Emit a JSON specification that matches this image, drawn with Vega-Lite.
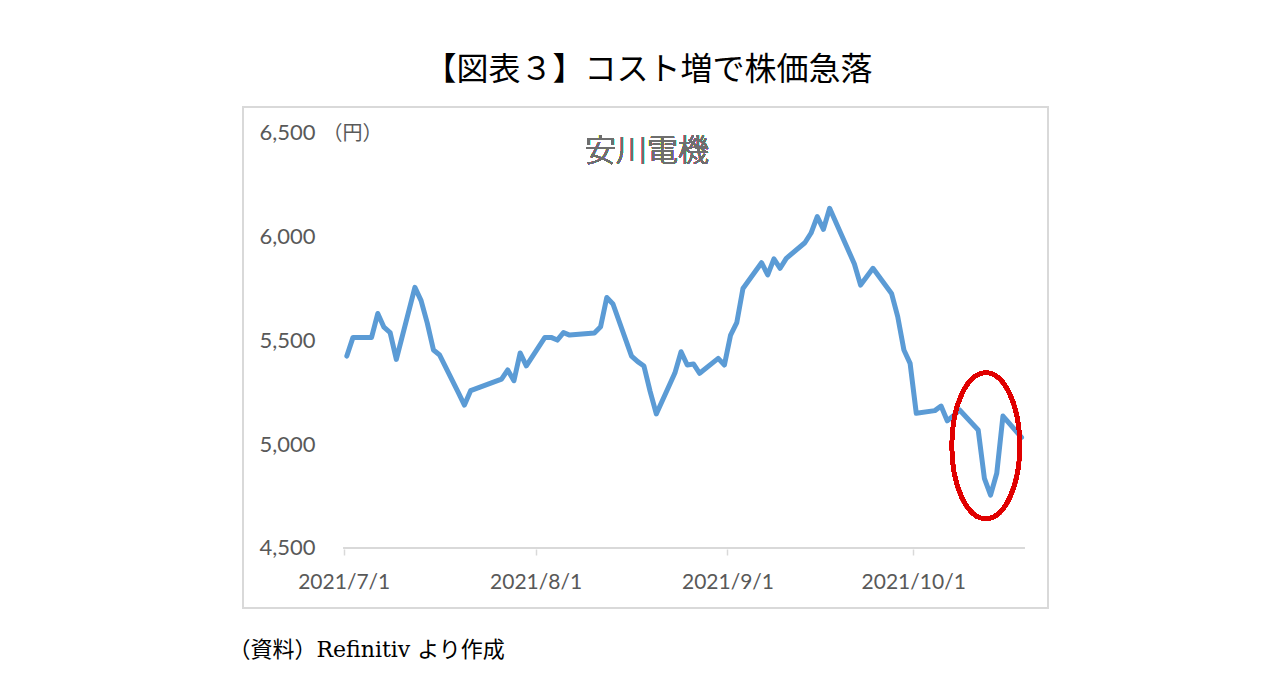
{
  "$schema": "https://vega.github.io/schema/vega-lite/v6.json",
  "width": 805,
  "height": 501,
  "autosize": {"type": "none"},
  "padding": {"left": 243, "top": 107, "right": 228, "bottom": 88},
  "background": "#ffffff",
  "title": {
    "text": "【図表３】コスト増で株価急落",
    "font": "Noto Sans CJK JP",
    "fontSize": 32,
    "fontWeight": "normal",
    "color": "#000000",
    "anchor": "middle",
    "dx": 3,
    "offset": 20
  },
  "config": {
    "view": {"stroke": "#d9d9d9", "strokeWidth": 2}
  },
  "data": {
    "values": [
      {"date": "2021-07-01", "price": 5425},
      {"date": "2021-07-02", "price": 5515},
      {"date": "2021-07-05", "price": 5515},
      {"date": "2021-07-06", "price": 5630},
      {"date": "2021-07-07", "price": 5564},
      {"date": "2021-07-08", "price": 5538},
      {"date": "2021-07-09", "price": 5409},
      {"date": "2021-07-12", "price": 5756},
      {"date": "2021-07-13", "price": 5692},
      {"date": "2021-07-14", "price": 5584},
      {"date": "2021-07-15", "price": 5454},
      {"date": "2021-07-16", "price": 5430},
      {"date": "2021-07-19", "price": 5250},
      {"date": "2021-07-20", "price": 5189},
      {"date": "2021-07-21", "price": 5258},
      {"date": "2021-07-26", "price": 5314},
      {"date": "2021-07-27", "price": 5358},
      {"date": "2021-07-28", "price": 5306},
      {"date": "2021-07-29", "price": 5440},
      {"date": "2021-07-30", "price": 5378},
      {"date": "2021-08-02", "price": 5515},
      {"date": "2021-08-03", "price": 5515},
      {"date": "2021-08-04", "price": 5502},
      {"date": "2021-08-05", "price": 5538},
      {"date": "2021-08-06", "price": 5526},
      {"date": "2021-08-10", "price": 5536},
      {"date": "2021-08-11", "price": 5566},
      {"date": "2021-08-12", "price": 5707},
      {"date": "2021-08-13", "price": 5676},
      {"date": "2021-08-16", "price": 5425},
      {"date": "2021-08-17", "price": 5398},
      {"date": "2021-08-18", "price": 5377},
      {"date": "2021-08-19", "price": 5255},
      {"date": "2021-08-20", "price": 5146},
      {"date": "2021-08-23", "price": 5343},
      {"date": "2021-08-24", "price": 5446},
      {"date": "2021-08-25", "price": 5382},
      {"date": "2021-08-26", "price": 5387},
      {"date": "2021-08-27", "price": 5342},
      {"date": "2021-08-30", "price": 5414},
      {"date": "2021-08-31", "price": 5382},
      {"date": "2021-09-01", "price": 5526},
      {"date": "2021-09-02", "price": 5586},
      {"date": "2021-09-03", "price": 5751},
      {"date": "2021-09-06", "price": 5875},
      {"date": "2021-09-07", "price": 5816},
      {"date": "2021-09-08", "price": 5893},
      {"date": "2021-09-09", "price": 5848},
      {"date": "2021-09-10", "price": 5896},
      {"date": "2021-09-13", "price": 5971},
      {"date": "2021-09-14", "price": 6018},
      {"date": "2021-09-15", "price": 6097},
      {"date": "2021-09-16", "price": 6036},
      {"date": "2021-09-17", "price": 6137},
      {"date": "2021-09-21", "price": 5869},
      {"date": "2021-09-22", "price": 5767},
      {"date": "2021-09-24", "price": 5848},
      {"date": "2021-09-27", "price": 5727},
      {"date": "2021-09-28", "price": 5615},
      {"date": "2021-09-29", "price": 5454},
      {"date": "2021-09-30", "price": 5390},
      {"date": "2021-10-01", "price": 5149},
      {"date": "2021-10-04", "price": 5162},
      {"date": "2021-10-05", "price": 5184},
      {"date": "2021-10-06", "price": 5113},
      {"date": "2021-10-07", "price": 5138},
      {"date": "2021-10-08", "price": 5165},
      {"date": "2021-10-11", "price": 5069},
      {"date": "2021-10-12", "price": 4836},
      {"date": "2021-10-13", "price": 4755},
      {"date": "2021-10-14", "price": 4860},
      {"date": "2021-10-15", "price": 5136},
      {"date": "2021-10-18", "price": 5033}
    ]
  },
  "layer": [
    {
      "mark": {
        "type": "line",
        "color": "#5b9bd5",
        "strokeWidth": 5,
        "strokeJoin": "round",
        "strokeCap": "round"
      },
      "encoding": {
        "x": {
          "field": "date",
          "type": "temporal",
          "timeUnit": "utcyearmonthdate",
          "bandPosition": 0.5,
          "scale": {
            "type": "utc",
            "domain": [
              {"year": 2021, "month": 6, "date": 14, "hours": 17, "minutes": 30, "utc": true},
              {"year": 2021, "month": 10, "date": 22, "hours": 18, "minutes": 40, "utc": true}
            ]
          },
          "axis": {
            "values": [
              {"year": 2021, "month": 7, "date": 1, "utc": true},
              {"year": 2021, "month": 8, "date": 1, "utc": true},
              {"year": 2021, "month": 9, "date": 1, "utc": true},
              {"year": 2021, "month": 10, "date": 1, "utc": true}
            ],
            "format": "%Y/%-m/%-d",
            "offset": -59,
            "grid": false,
            "domain": false,
            "ticks": true,
            "tickSize": 6,
            "tickColor": "#d9d9d9",
            "tickWidth": 1.5,
            "labelFont": "Lato",
            "labelFontSize": 21,
            "labelColor": "#595959",
            "labelPadding": 16,
            "title": "（資料）Refinitiv より作成",
            "titleFont": "DejaVu Serif, Noto Sans CJK JP",
            "titleFontSize": 22,
            "titleFontWeight": "normal",
            "titleColor": "#000000",
            "titleAngle": 0,
            "titleAlign": "left",
            "titleBaseline": "middle",
            "titleX": -15,
            "titleY": 100
          }
        },
        "y": {
          "field": "price",
          "type": "quantitative",
          "scale": {"domain": [4210.8, 6625.3], "nice": false, "zero": false},
          "axis": {
            "values": [4500, 5000, 5500, 6000, 6500],
            "format": ",d",
            "offset": -80,
            "grid": false,
            "domain": false,
            "ticks": false,
            "tickSize": 0,
            "labelFont": "Lato",
            "labelFontSize": 22,
            "labelColor": "#595959",
            "labelPadding": 8,
            "title": "（円）",
            "titleFont": "Noto Sans CJK JP",
            "titleFontSize": 20,
            "titleFontWeight": "normal",
            "titleColor": "#595959",
            "titleAngle": 0,
            "titleAlign": "left",
            "titleBaseline": "middle",
            "titleX": -1,
            "titleY": 26
          }
        }
      }
    },
    {
      "mark": {"type": "rule", "color": "#d9d9d9", "strokeWidth": 1.5},
      "encoding": {
        "x": {"datum": {"year": 2021, "month": 7, "date": 1, "utc": true}, "type": "temporal"},
        "x2": {"datum": {"year": 2021, "month": 10, "date": 19, "utc": true}},
        "y": {"datum": 4500, "type": "quantitative"}
      }
    },
    {
      "mark": {
        "type": "text",
        "text": "安川電機",
        "font": "Noto Sans CJK JP",
        "fontSize": 31,
        "fontWeight": 300,
        "color": "#6e6e6e",
        "align": "center",
        "baseline": "middle"
      },
      "encoding": {
        "x": {"datum": {"year": 2021, "month": 8, "date": 19, "utc": true}, "type": "temporal"},
        "y": {"datum": 6410, "type": "quantitative"}
      }
    },
    {
      "mark": {
        "type": "point",
        "shape": "M0,-1C0.2574,-1 0.466,-0.5523 0.466,0C0.466,0.5523 0.2574,1 0,1C-0.2574,1 -0.466,0.5523 -0.466,0C-0.466,-0.5523 -0.2574,-1 0,-1Z",
        "size": 21316,
        "filled": false,
        "stroke": "#e00000",
        "strokeWidth": 4,
        "opacity": 1
      },
      "encoding": {
        "x": {"datum": {"year": 2021, "month": 10, "date": 12, "hours": 17, "minutes": 30, "utc": true}, "type": "temporal"},
        "y": {"datum": 4993, "type": "quantitative"}
      }
    }
  ]
}
